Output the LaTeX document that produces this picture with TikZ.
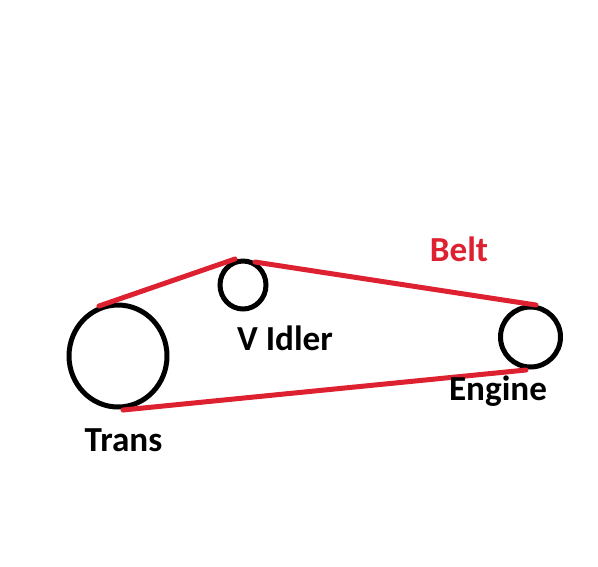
\documentclass[tikz,border=0pt]{standalone}
\usepackage{fontspec}
\setmainfont{Carlito}
\usetikzlibrary{positioning,shapes.geometric}
\definecolor{beltred}{RGB}{221,33,48}
\tikzset{
    pulley/.style={ellipse, draw=black, line width=1mm, inner sep=0pt, outer sep=0pt},
    belt/.style={beltred, line width=1mm, line cap=round},
    lbl/.style={font=\fontsize{20}{23}\selectfont\bfseries, inner sep=0pt}
}
\begin{document}
\begin{tikzpicture}[x=0.02cm, y=-0.02cm]
    \useasboundingbox (0,0) rectangle (598,566);

    % Pulleys
    \node[pulley, minimum width=1.96cm, minimum height=2.04cm] (trans) at (118,356) {};
    \node[pulley, minimum width=0.92cm, minimum height=0.96cm] (idler) at (243,285) {};
    \node[pulley, minimum width=1.2cm, minimum height=1.2cm] (engine) at (530.5,337) {};

    % Belt ends
    \coordinate (transtop) at (99,306);
    \coordinate (transbot) at (123,410);
    \coordinate (idlerin) at (235,259);
    \coordinate (idlerout) at (255,262);
    \coordinate (enginetop) at (536,305);
    \coordinate (enginebot) at (526,370);

    % Belt
    \draw[belt] (transtop) -- (idlerin);
    \draw[belt] (idlerout) -- (enginetop);
    \draw[belt] (transbot) -- (enginebot);

    % Labels
    \node[lbl, text=beltred] (beltlbl) at (459,249) {Belt};
    \node[lbl] (idlerlbl) at (285,338) {V Idler};
    \node[lbl] (enginelbl) at (498,391.5) {Engine};
    \node[lbl] (translbl) at (123.5,440) {Trans};
\end{tikzpicture}
\end{document}
